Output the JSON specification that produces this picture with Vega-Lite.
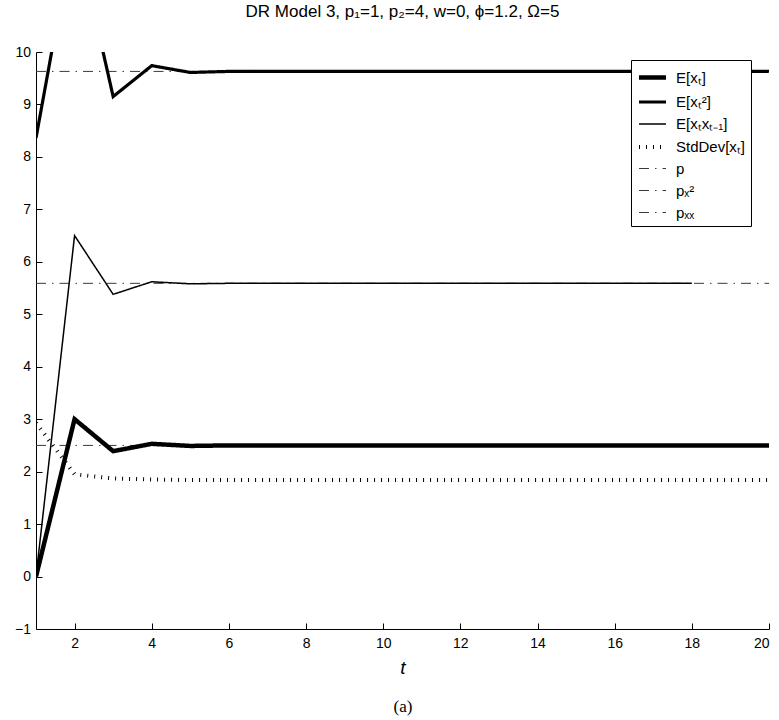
{
  "$schema": "https://vega.github.io/schema/vega-lite/v6.json",
  "width": 733,
  "height": 577,
  "autosize": {"type": "none"},
  "padding": {"left": 36, "top": 52, "right": 10, "bottom": 91},
  "background": "white",
  "title": {
    "text": "DR Model 3, p₁=1, p₂=4, w=0, ϕ=1.2, Ω=5",
    "font": "Liberation Sans",
    "fontSize": 17,
    "fontWeight": "normal",
    "color": "black",
    "anchor": "middle",
    "frame": "group",
    "offset": 24
  },
  "config": {
    "view": {"stroke": null},
    "font": "Liberation Sans",
    "axis": {
      "grid": false,
      "labelFont": "Liberation Sans",
      "labelFontSize": 14,
      "labelColor": "black",
      "domainColor": "black",
      "tickColor": "black",
      "tickSize": -6,
      "titleColor": "black",
      "titleFontWeight": "normal"
    },
    "legend": {
      "labelFont": "Liberation Sans",
      "labelFontSize": 15,
      "labelColor": "black"
    }
  },
  "datasets": {
    "series": [
      {"t": 1, "series": "E[xₜ]", "value": 0},
      {"t": 2, "series": "E[xₜ]", "value": 3.0},
      {"t": 3, "series": "E[xₜ]", "value": 2.39},
      {"t": 4, "series": "E[xₜ]", "value": 2.53},
      {"t": 5, "series": "E[xₜ]", "value": 2.49},
      {"t": 6, "series": "E[xₜ]", "value": 2.5},
      {"t": 7, "series": "E[xₜ]", "value": 2.5},
      {"t": 8, "series": "E[xₜ]", "value": 2.5},
      {"t": 9, "series": "E[xₜ]", "value": 2.5},
      {"t": 10, "series": "E[xₜ]", "value": 2.5},
      {"t": 11, "series": "E[xₜ]", "value": 2.5},
      {"t": 12, "series": "E[xₜ]", "value": 2.5},
      {"t": 13, "series": "E[xₜ]", "value": 2.5},
      {"t": 14, "series": "E[xₜ]", "value": 2.5},
      {"t": 15, "series": "E[xₜ]", "value": 2.5},
      {"t": 16, "series": "E[xₜ]", "value": 2.5},
      {"t": 17, "series": "E[xₜ]", "value": 2.5},
      {"t": 18, "series": "E[xₜ]", "value": 2.5},
      {"t": 19, "series": "E[xₜ]", "value": 2.5},
      {"t": 20, "series": "E[xₜ]", "value": 2.5},

      {"t": 1, "series": "E[xₜ²]", "value": 8.36},
      {"t": 2, "series": "E[xₜ²]", "value": 12.4},
      {"t": 3, "series": "E[xₜ²]", "value": 9.15},
      {"t": 4, "series": "E[xₜ²]", "value": 9.74},
      {"t": 5, "series": "E[xₜ²]", "value": 9.61},
      {"t": 6, "series": "E[xₜ²]", "value": 9.63},
      {"t": 7, "series": "E[xₜ²]", "value": 9.63},
      {"t": 8, "series": "E[xₜ²]", "value": 9.63},
      {"t": 9, "series": "E[xₜ²]", "value": 9.63},
      {"t": 10, "series": "E[xₜ²]", "value": 9.63},
      {"t": 11, "series": "E[xₜ²]", "value": 9.63},
      {"t": 12, "series": "E[xₜ²]", "value": 9.63},
      {"t": 13, "series": "E[xₜ²]", "value": 9.63},
      {"t": 14, "series": "E[xₜ²]", "value": 9.63},
      {"t": 15, "series": "E[xₜ²]", "value": 9.63},
      {"t": 16, "series": "E[xₜ²]", "value": 9.63},
      {"t": 17, "series": "E[xₜ²]", "value": 9.63},
      {"t": 18, "series": "E[xₜ²]", "value": 9.63},
      {"t": 19, "series": "E[xₜ²]", "value": 9.63},
      {"t": 20, "series": "E[xₜ²]", "value": 9.63},

      {"t": 1, "series": "E[xₜxₜ₋₁]", "value": 0},
      {"t": 2, "series": "E[xₜxₜ₋₁]", "value": 6.5},
      {"t": 3, "series": "E[xₜxₜ₋₁]", "value": 5.38},
      {"t": 4, "series": "E[xₜxₜ₋₁]", "value": 5.62},
      {"t": 5, "series": "E[xₜxₜ₋₁]", "value": 5.58},
      {"t": 6, "series": "E[xₜxₜ₋₁]", "value": 5.59},
      {"t": 7, "series": "E[xₜxₜ₋₁]", "value": 5.59},
      {"t": 8, "series": "E[xₜxₜ₋₁]", "value": 5.59},
      {"t": 9, "series": "E[xₜxₜ₋₁]", "value": 5.59},
      {"t": 10, "series": "E[xₜxₜ₋₁]", "value": 5.59},
      {"t": 11, "series": "E[xₜxₜ₋₁]", "value": 5.59},
      {"t": 12, "series": "E[xₜxₜ₋₁]", "value": 5.59},
      {"t": 13, "series": "E[xₜxₜ₋₁]", "value": 5.59},
      {"t": 14, "series": "E[xₜxₜ₋₁]", "value": 5.59},
      {"t": 15, "series": "E[xₜxₜ₋₁]", "value": 5.59},
      {"t": 16, "series": "E[xₜxₜ₋₁]", "value": 5.59},
      {"t": 17, "series": "E[xₜxₜ₋₁]", "value": 5.59},
      {"t": 18, "series": "E[xₜxₜ₋₁]", "value": 5.59},

      {"t": 1, "series": "StdDev[xₜ]", "value": 2.93},
      {"t": 2, "series": "StdDev[xₜ]", "value": 1.95},
      {"t": 3, "series": "StdDev[xₜ]", "value": 1.87},
      {"t": 4, "series": "StdDev[xₜ]", "value": 1.85},
      {"t": 5, "series": "StdDev[xₜ]", "value": 1.84},
      {"t": 6, "series": "StdDev[xₜ]", "value": 1.84},
      {"t": 7, "series": "StdDev[xₜ]", "value": 1.84},
      {"t": 8, "series": "StdDev[xₜ]", "value": 1.84},
      {"t": 9, "series": "StdDev[xₜ]", "value": 1.84},
      {"t": 10, "series": "StdDev[xₜ]", "value": 1.84},
      {"t": 11, "series": "StdDev[xₜ]", "value": 1.84},
      {"t": 12, "series": "StdDev[xₜ]", "value": 1.84},
      {"t": 13, "series": "StdDev[xₜ]", "value": 1.84},
      {"t": 14, "series": "StdDev[xₜ]", "value": 1.84},
      {"t": 15, "series": "StdDev[xₜ]", "value": 1.84},
      {"t": 16, "series": "StdDev[xₜ]", "value": 1.84},
      {"t": 17, "series": "StdDev[xₜ]", "value": 1.84},
      {"t": 18, "series": "StdDev[xₜ]", "value": 1.84},
      {"t": 19, "series": "StdDev[xₜ]", "value": 1.84},
      {"t": 20, "series": "StdDev[xₜ]", "value": 1.84}
    ],
    "refs": [
      {"t": 1, "series": "p", "value": 2.5},
      {"t": 20, "series": "p", "value": 2.5},
      {"t": 1, "series": "pₓ²", "value": 9.63},
      {"t": 20, "series": "pₓ²", "value": 9.63},
      {"t": 1, "series": "pₓₓ", "value": 5.59},
      {"t": 20, "series": "pₓₓ", "value": 5.59}
    ]
  },
  "encoding": {
    "x": {"field": "t", "type": "quantitative", "scale": {"domain": [1, 20], "nice": false, "zero": false}},
    "y": {
      "field": "value",
      "type": "quantitative",
      "scale": {"domain": [-1, 10], "nice": false, "zero": false},
      "axis": {"values": [-1, 0, 1, 2, 3, 4, 5, 6, 7, 8, 9, 10], "title": null, "labelPadding": 11.5}
    },
    "detail": {"field": "series"},
    "color": {
      "field": "series",
      "type": "ordinal",
      "sort": ["E[xₜ]", "E[xₜ²]", "E[xₜxₜ₋₁]", "StdDev[xₜ]", "p", "pₓ²", "pₓₓ"],
      "scale": {
        "type": "ordinal",
        "domain": ["E[xₜ]", "E[xₜ²]", "E[xₜxₜ₋₁]", "StdDev[xₜ]", "p", "pₓ²", "pₓₓ"],
        "range": ["black", "black", "black", "black", "#3a3a3a", "#3a3a3a", "#3a3a3a"]
      },
      "legend": {
        "title": null,
        "orient": "none",
        "legendX": 595,
        "legendY": 8,
        "symbolType": "M-1.35,0H1.35",
        "symbolSize": 400,
        "symbolOffset": 4,
        "fillColor": "white",
        "strokeColor": "black",
        "padding": 5,
        "rowPadding": 3,
        "labelOffset": 11
      }
    },
    "strokeWidth": {
      "field": "series",
      "type": "ordinal",
      "sort": ["E[xₜ]", "E[xₜ²]", "E[xₜxₜ₋₁]", "StdDev[xₜ]", "p", "pₓ²", "pₓₓ"],
      "scale": {
        "type": "ordinal",
        "domain": ["E[xₜ]", "E[xₜ²]", "E[xₜxₜ₋₁]", "StdDev[xₜ]", "p", "pₓ²", "pₓₓ"],
        "range": [4.5, 3.2, 1.5, 4, 1, 1, 1]
      },
      "legend": null
    },
    "strokeDash": {
      "field": "series",
      "type": "ordinal",
      "sort": ["E[xₜ]", "E[xₜ²]", "E[xₜxₜ₋₁]", "StdDev[xₜ]", "p", "pₓ²", "pₓₓ"],
      "scale": {
        "type": "ordinal",
        "domain": ["E[xₜ]", "E[xₜ²]", "E[xₜxₜ₋₁]", "StdDev[xₜ]", "p", "pₓ²", "pₓₓ"],
        "range": [[1, 0], [1, 0], [1, 0], [1, 6], [10, 6, 1.5, 6], [10, 6, 1.5, 6], [10, 6, 1.5, 6]]
      },
      "legend": null
    }
  },
  "layer": [
    {
      "data": {"name": "refs"},
      "mark": {"type": "line", "clip": true, "strokeCap": "butt"},
      "encoding": {
        "x": {
          "field": "t",
          "type": "quantitative",
          "axis": {
            "orient": "bottom",
            "title": "(a)",
            "labels": false,
            "ticks": false,
            "domain": false,
            "titleFont": "Liberation Serif",
            "titleFontSize": 17,
            "titlePadding": 69
          }
        }
      }
    },
    {
      "data": {"name": "series"},
      "mark": {"type": "line", "clip": true, "strokeCap": "butt", "strokeJoin": "miter"},
      "encoding": {
        "x": {
          "field": "t",
          "type": "quantitative",
          "axis": {
            "orient": "bottom",
            "values": [2, 4, 6, 8, 10, 12, 14, 16, 18, 20],
            "title": "t",
            "titleFontStyle": "italic",
            "titleFontSize": 19,
            "titlePadding": 8,
            "labelPadding": 13
          }
        }
      }
    }
  ],
  "resolve": {"axis": {"x": "independent"}}
}
